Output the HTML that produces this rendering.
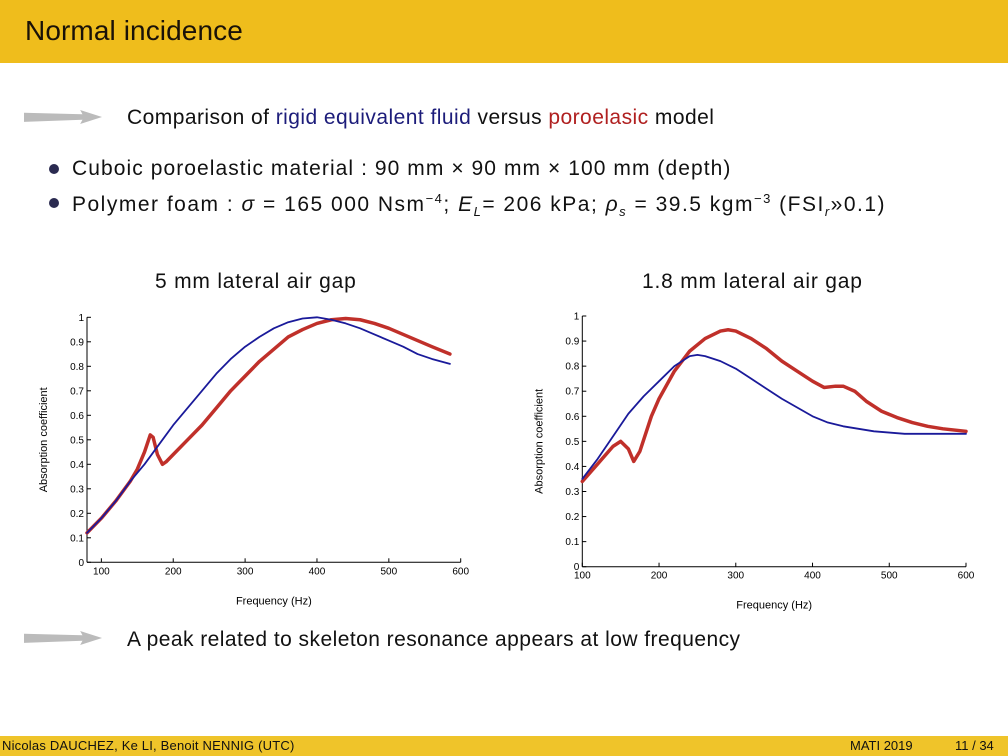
<!DOCTYPE html>
<html><head><meta charset="utf-8"><style>
body{margin:0;width:1008px;height:756px;background:#fff;position:relative;overflow:hidden;font-family:"Liberation Sans",sans-serif;color:#111}
.t{position:absolute;white-space:nowrap}
</style></head><body>
<div style="position:absolute;left:0;top:0;width:1008px;height:63px;background:#efbd1c"></div>
<div class="t" style="left:25px;top:15px;font-size:28px;letter-spacing:0.1px;color:#1a1208">Normal incidence</div>
<div style="position:absolute;left:24px;top:110px;width:78px;height:14px;background:#bbb;clip-path:polygon(0 20%,75% 30%,72% 0,100% 50%,72% 100%,75% 70%,0 85%)"></div>
<div class="t" style="left:127px;top:106px;font-size:21px;letter-spacing:0.45px">Comparison of <span style="color:#1c1c7a">rigid equivalent fluid</span> versus <span style="color:#b02020">poroelasic</span> model</div>
<div style="position:absolute;left:49px;top:164px;width:10px;height:10px;border-radius:50%;background:#2a2a50"></div>
<div class="t" style="left:72px;top:157px;font-size:21px;letter-spacing:1.07px">Cuboic poroelastic material : 90 mm × 90 mm × 100 mm (depth)</div>
<div style="position:absolute;left:49px;top:198px;width:10px;height:10px;border-radius:50%;background:#2a2a50"></div>
<div class="t" style="left:72px;top:191px;font-size:21px;letter-spacing:1.5px">Polymer foam : <i>σ</i> = 165 000 Nsm<sup style="font-size:13px">−4</sup>; <i>E<sub style="font-size:13px">L</sub></i>= 206 kPa; <i>ρ<sub style="font-size:13px">s</sub></i> = 39.5 kgm<sup style="font-size:13px">−3</sup> (FSI<sub style="font-size:13px"><i>r</i></sub>»0.1)</div>
<div class="t" style="left:155px;top:270px;font-size:21px;letter-spacing:0.8px">5 mm lateral air gap</div>
<div class="t" style="left:642px;top:270px;font-size:21px;letter-spacing:0.8px">1.8 mm lateral air gap</div>
<svg id="s" width="1008" height="756" style="position:absolute;left:0;top:0"></svg>
<div style="position:absolute;left:24px;top:631px;width:78px;height:14px;background:#bbb;clip-path:polygon(0 20%,75% 30%,72% 0,100% 50%,72% 100%,75% 70%,0 85%)"></div>
<div class="t" style="left:127px;top:628px;font-size:21px;letter-spacing:0.45px">A peak related to skeleton resonance appears at low frequency</div>
<div style="position:absolute;left:0;top:736px;width:1008px;height:20px;background:#efc42a"></div>
<div class="t" style="left:2px;top:738px;font-size:13px;letter-spacing:0.2px">Nicolas DAUCHEZ, Ke LI, Benoit NENNIG (UTC)</div>
<div class="t" style="left:850px;top:738px;font-size:13px">MATI 2019</div>
<div class="t" style="left:955px;top:738px;font-size:13px">11 / 34</div>
<script>
const yTicks=[0,0.1,0.2,0.3,0.4,0.5,0.6,0.7,0.8,0.9,1];
const xTicks=[100,200,300,400,500,600];
const lFreqRigid=[80,100,120,140,160,180,200,220,240,260,280,300,320,340,360,380,400,420,440,460,480,500,520,540,560,585];
const lRigid=[0.12,0.18,0.25,0.33,0.40,0.48,0.56,0.63,0.70,0.77,0.83,0.88,0.92,0.955,0.98,0.995,1.0,0.99,0.975,0.955,0.93,0.905,0.88,0.85,0.83,0.81];
const lFreqPoro=[80,100,120,140,150,160,168,172,178,185,190,200,220,240,260,280,300,320,340,360,380,400,420,440,460,480,500,520,540,560,585];
const lPoro=[0.12,0.18,0.25,0.33,0.38,0.45,0.52,0.51,0.44,0.40,0.41,0.44,0.50,0.56,0.63,0.70,0.76,0.82,0.87,0.92,0.95,0.975,0.99,0.995,0.99,0.975,0.955,0.93,0.905,0.88,0.85];
const rFreqRigid=[100,120,140,160,180,200,220,240,250,260,280,300,320,340,360,380,400,420,440,460,480,500,520,560,600];
const rRigid=[0.35,0.43,0.52,0.61,0.68,0.74,0.80,0.84,0.845,0.84,0.82,0.79,0.75,0.71,0.67,0.635,0.60,0.575,0.56,0.55,0.54,0.535,0.53,0.53,0.53];
const rFreqPoro=[100,120,140,150,160,167,175,190,200,220,240,260,280,290,300,320,340,360,380,400,415,430,440,455,470,490,510,530,550,570,600];
const rPoro=[0.34,0.41,0.48,0.50,0.47,0.42,0.46,0.60,0.67,0.78,0.86,0.91,0.94,0.945,0.94,0.91,0.87,0.82,0.78,0.74,0.715,0.72,0.72,0.70,0.66,0.62,0.595,0.575,0.56,0.55,0.54];
const NS='http://www.w3.org/2000/svg',svg=document.getElementById('s');
function mk(t,a,p){const e=document.createElementNS(NS,t);for(const k in a)e.setAttribute(k,a[k]);(p||svg).appendChild(e);return e;}
function chart(id,x0,x1,y0,y1,fmin,fmax,sets){
 const g=mk('g',{});
 
 
 const X=f=>x0+(f-fmin)/(fmax-fmin)*(x1-x0),Y=v=>y0-(v)*(y0-y1);
 mk('line',{x1:x0,y1:y0,x2:x1,y2:y0,stroke:'#000','stroke-width':1},g);
 mk('line',{x1:x0,y1:y0,x2:x0,y2:y1,stroke:'#000','stroke-width':1},g);
 yTicks.forEach(v=>{mk('line',{x1:x0,x2:x0+4,y1:Y(v),y2:Y(v),stroke:'#000'},g);
  const t=mk('text',{x:x0-3,y:Y(v)+3.5,'text-anchor':'end','font-size':10,'font-family':'Liberation Sans'},g);t.textContent=String(v);});
 xTicks.forEach(v=>{mk('line',{x1:X(v),x2:X(v),y1:y0,y2:y0-4,stroke:'#000'},g);
  const t=mk('text',{x:X(v),y:y0+12,'text-anchor':'middle','font-size':10,'font-family':'Liberation Sans'},g);t.textContent=String(v);});
 const xl=mk('text',{x:(x0+x1)/2,y:y0+42,'text-anchor':'middle','font-size':11,'font-family':'Liberation Sans'},g);xl.textContent='Frequency (Hz)';
 const yl=mk('text',{x:0,y:0,'text-anchor':'middle','font-size':11,'font-family':'Liberation Sans',transform:`translate(${x0-40},${(y0+y1)/2}) rotate(-90)`},g);yl.textContent='Absorption coefficient';
 sets.forEach(s=>{const p=mk('polyline',{points:s.f.map((f,i)=>X(f)+','+Y(s.v[i])).join(' '),fill:'none',stroke:s.c,'stroke-width':s.w,'stroke-linejoin':'round','stroke-linecap':'round'},g);
  
  });
}
chart('chart-left',87,460.7,562.3,317.3,80,600,[
 {f:lFreqPoro,v:lPoro,c:'#c0302a',w:3.5,n:'poroelastic-line-left'},
 {f:lFreqRigid,v:lRigid,c:'#1a1a9a',w:1.8,n:'rigid-line-left'}]);
chart('chart-right',582.3,966,566.7,316,100,600,[
 {f:rFreqPoro,v:rPoro,c:'#c0302a',w:3.5,n:'poroelastic-line-right'},
 {f:rFreqRigid,v:rRigid,c:'#1a1a9a',w:1.8,n:'rigid-line-right'}]);
</script>
</body></html>
